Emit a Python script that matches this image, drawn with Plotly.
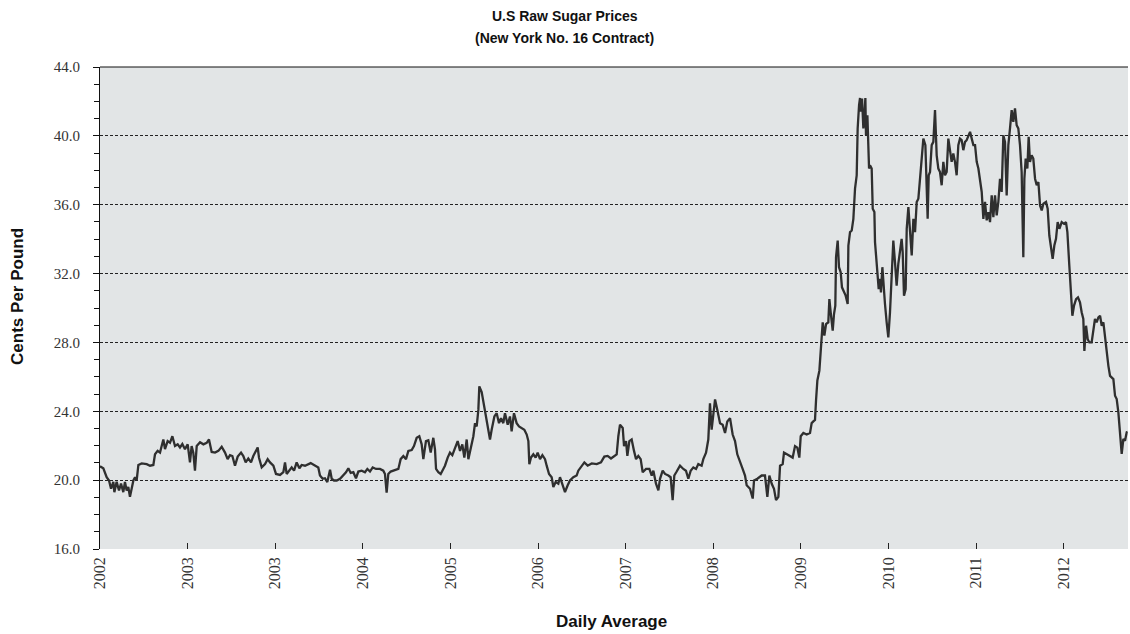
import plotly.graph_objects as go

# Time position in years from the first tick (left edge = first "2002" label)
t_years = [
    0.000, 0.038, 0.076, 0.103, 0.126, 0.152, 0.164, 0.190, 0.217, 0.240, 0.266, 0.285, 0.304, 0.323, 0.342, 0.361,
    0.381, 0.400, 0.419, 0.438, 0.476, 0.533, 0.571, 0.609, 0.628, 0.658, 0.685, 0.704, 0.723, 0.742, 0.772, 0.799,
    0.826, 0.856, 0.887, 0.913, 0.940, 0.970, 1.001, 1.027, 1.046, 1.065, 1.084, 1.104, 1.142, 1.180, 1.218, 1.244,
    1.275, 1.313, 1.351, 1.389, 1.427, 1.457, 1.484, 1.511, 1.541, 1.572, 1.610, 1.636, 1.663, 1.693, 1.724, 1.750,
    1.769, 1.800, 1.815, 1.846, 1.884, 1.914,
    1.941, 1.979, 2.009, 2.055, 2.093, 2.112, 2.131, 2.161, 2.188, 2.215, 2.245, 2.276, 2.302, 2.340, 2.378, 2.405,
    2.443, 2.492, 2.511, 2.542, 2.568, 2.595, 2.626, 2.645, 2.671, 2.702, 2.740, 2.778, 2.808, 2.835, 2.862, 2.892,
    2.922, 2.949, 2.987, 3.025, 3.052, 3.082, 3.113, 3.151, 3.196, 3.234, 3.253, 3.272, 3.291, 3.318, 3.356, 3.406,
    3.432, 3.463, 3.493, 3.520, 3.558, 3.584, 3.615, 3.645, 3.672, 3.691, 3.721, 3.748, 3.775, 3.805, 3.824, 3.836,
    3.862, 3.889, 3.919,
    3.938, 3.969, 3.995, 4.022, 4.052, 4.083, 4.110, 4.136, 4.159, 4.186, 4.205, 4.235, 4.262, 4.281, 4.300, 4.319,
    4.330, 4.357, 4.376, 4.395, 4.414, 4.433, 4.452, 4.471, 4.502, 4.528, 4.555, 4.578, 4.604, 4.623, 4.654, 4.680,
    4.699, 4.726, 4.756, 4.783, 4.814, 4.844, 4.871, 4.890, 4.901, 4.920, 4.947, 4.973, 4.996, 5.023, 5.050, 5.080,
    5.099, 5.126, 5.156, 5.175, 5.202, 5.232, 5.251, 5.278, 5.308, 5.339, 5.365, 5.403, 5.441, 5.460, 5.498, 5.529,
    5.567, 5.613, 5.670, 5.719, 5.757, 5.795, 5.833, 5.871, 5.898, 5.917,
    5.936, 5.967, 5.982, 6.005, 6.020, 6.043, 6.069, 6.096, 6.119, 6.145, 6.172, 6.195, 6.233, 6.271, 6.298, 6.317,
    6.347, 6.374, 6.393, 6.423, 6.450, 6.488, 6.514, 6.537, 6.556, 6.583, 6.621, 6.659, 6.689, 6.716, 6.743, 6.773,
    6.804, 6.830, 6.868, 6.887, 6.918, 6.944, 6.963, 6.982, 7.002, 7.021, 7.047, 7.078, 7.108, 7.135, 7.161, 7.192,
    7.222, 7.249, 7.275, 7.306, 7.336, 7.363, 7.382, 7.420, 7.451, 7.466, 7.504, 7.553, 7.591, 7.618, 7.641, 7.668,
    7.694, 7.717, 7.744, 7.763, 7.793, 7.808, 7.839, 7.877, 7.907, 7.934, 7.960, 7.983, 7.999, 8.029, 8.067, 8.105,
    8.124, 8.143, 8.162, 8.174, 8.189, 8.212,
    8.227, 8.242, 8.250, 8.269, 8.288, 8.314, 8.326, 8.341, 8.364, 8.379, 8.394, 8.402, 8.421, 8.436, 8.455, 8.470,
    8.493, 8.512, 8.535, 8.543, 8.562, 8.581, 8.600, 8.619, 8.638, 8.649, 8.665, 8.676, 8.687, 8.699, 8.714, 8.725,
    8.737, 8.744, 8.760, 8.767, 8.779, 8.790, 8.809, 8.821, 8.840, 8.847, 8.858, 8.874, 8.889, 8.904, 8.915, 8.931,
    8.942, 8.961, 8.980, 8.999, 9.018, 9.037, 9.056, 9.075, 9.094, 9.113, 9.132, 9.151, 9.163, 9.178, 9.197, 9.209,
    9.228, 9.247, 9.266, 9.285, 9.304, 9.323, 9.342, 9.361, 9.380, 9.399, 9.422, 9.437, 9.448, 9.460, 9.475, 9.494,
    9.513, 9.532, 9.551, 9.570, 9.589, 9.608, 9.627, 9.646, 9.665, 9.684, 9.703, 9.722, 9.741, 9.760, 9.779, 9.798,
    9.817, 9.836, 9.855, 9.875, 9.893, 9.912, 9.932, 9.951, 9.970,
    9.989, 10.008, 10.027, 10.046, 10.065, 10.084, 10.103, 10.122, 10.141, 10.160, 10.179, 10.198, 10.217, 10.236,
    10.255, 10.274, 10.293, 10.312, 10.331, 10.350, 10.369, 10.388, 10.407, 10.426, 10.445, 10.464, 10.483, 10.502,
    10.521, 10.540, 10.552, 10.567, 10.586, 10.601, 10.616, 10.635, 10.654, 10.674, 10.693, 10.712, 10.731, 10.750,
    10.769, 10.799, 10.818, 10.837, 10.852, 10.875, 10.894, 10.913, 10.932, 10.952, 10.978, 11.005, 11.027, 11.043,
    11.065, 11.081, 11.100, 11.119, 11.142, 11.164, 11.187, 11.206, 11.225, 11.237, 11.256, 11.275, 11.294, 11.320,
    11.339, 11.358, 11.377, 11.397, 11.416, 11.435, 11.454, 11.473, 11.492, 11.511, 11.530, 11.549,
    11.568, 11.587, 11.606, 11.625, 11.636, 11.651, 11.663, 11.682, 11.701, 11.720, 11.730,
]

# Daily average price, cents per pound
cents = [
    20.80, 20.69, 20.17, 19.98, 19.50, 19.90, 19.30, 19.90, 19.40, 19.80, 19.30, 19.90, 19.40, 19.60, 19.03, 19.60,
    19.98, 20.17, 20.00, 20.88, 20.97, 20.93, 20.84, 20.88, 21.50, 21.70, 21.60, 21.98, 22.36, 21.80, 22.27, 22.17,
    22.55, 21.98, 22.08, 21.90, 22.10, 21.80, 22.08, 21.03, 21.98, 21.60, 20.55, 21.98, 22.20, 22.08, 22.17, 22.36,
    21.64, 21.60, 21.70, 21.94, 21.60, 21.22, 21.45, 21.40, 20.84, 21.37, 21.60, 21.40, 21.03, 21.26, 21.03, 21.40,
    21.60, 21.90, 21.30, 20.74, 20.93, 21.22,
    21.03, 20.84, 20.36, 20.30, 20.46, 21.03, 20.36, 20.55, 20.74, 20.55, 21.03, 20.69, 20.88, 20.84, 20.93, 20.99,
    20.88, 20.74, 20.27, 20.08, 20.11, 19.89, 20.60, 20.08, 19.98, 19.98, 20.08, 20.27, 20.46, 20.69, 20.42, 20.46,
    20.11, 20.50, 20.55, 20.46, 20.65, 20.50, 20.74, 20.65, 20.65, 20.55, 20.36, 19.28, 20.36, 20.50, 20.55, 20.65,
    21.22, 21.40, 21.22, 21.70, 21.75, 21.98, 22.46, 22.55, 22.08, 21.22, 22.27, 22.32, 21.60, 22.46, 21.79, 20.65,
    20.46, 20.36, 20.65,
    20.84, 21.31, 21.60, 21.45, 21.89, 22.27, 21.70, 22.08, 21.31, 22.36, 21.22, 21.98, 22.55, 23.31, 23.12, 24.08,
    25.45, 25.12, 24.55, 24.08, 23.50, 22.74, 22.36, 22.93, 23.70, 23.89, 23.31, 23.60, 23.31, 23.89, 23.22, 23.70,
    22.84, 23.89, 23.31, 23.12, 23.03, 22.93, 22.65, 22.27, 20.93, 21.31, 21.50, 21.31, 21.60, 21.22, 21.45, 21.22,
    20.84, 20.36, 20.17, 19.60, 19.89, 19.79, 20.17, 19.79, 19.31, 19.70, 19.98, 20.17, 20.27, 20.55, 20.84, 21.03,
    20.84, 20.97, 20.93, 21.03, 21.37, 21.41, 21.26, 21.41, 21.50, 22.55,
    23.22, 23.03, 21.98, 22.27, 21.41, 22.27, 22.36, 21.70, 21.22, 21.41, 21.22, 20.46, 20.65, 20.65, 20.27, 20.55,
    19.79, 19.41, 20.08, 20.55, 20.36, 20.27, 20.17, 18.84, 20.27, 20.50, 20.84, 20.65, 20.55, 20.08, 20.55, 20.74,
    20.65, 20.93, 20.84, 21.22, 21.60, 22.36, 24.46, 22.93, 24.08, 24.69, 24.08, 23.31, 23.22, 22.74, 23.41, 23.60,
    22.65, 22.27, 21.50, 21.12, 20.65, 20.27, 19.70, 19.50, 18.93, 19.98, 20.08, 20.27, 20.27, 19.03, 20.27, 19.79,
    19.50, 18.84, 19.03, 20.84, 20.93, 21.60, 21.50, 21.37, 21.31, 21.98, 21.89, 21.31, 22.55, 22.74, 22.65, 22.74,
    23.31, 23.41, 23.50, 24.65, 25.79, 26.36,
    27.40, 28.58, 29.17, 28.39, 29.07, 29.17, 30.52, 29.75, 28.68, 29.65, 30.14, 32.95, 33.92, 32.37, 32.08, 31.20,
    30.91, 30.72, 30.23, 33.63, 34.41, 34.50, 35.18, 36.93, 37.71, 40.43, 41.79, 42.20, 41.40, 42.17, 40.43, 41.00,
    42.20, 40.04, 41.20, 39.46, 38.10, 38.29, 38.10, 35.77, 35.57, 33.83, 33.05, 31.88, 31.10, 31.69, 30.91, 32.37,
    31.50, 30.23, 29.17, 28.29, 29.75, 32.08, 33.92, 32.66, 31.30, 32.56, 33.24, 34.02, 33.24, 30.72, 31.10, 34.60,
    35.86, 34.60, 33.05, 35.18, 34.41, 36.16, 36.35, 37.51, 38.68, 39.84, 39.46, 37.32, 35.18, 37.71, 37.90, 39.46,
    39.65, 41.50, 38.87, 38.10, 37.90, 37.13, 38.49, 37.71, 37.90, 39.84, 39.07, 38.49, 38.97, 38.49, 37.71, 39.46,
    39.84, 39.75, 39.17, 39.65, 39.75, 40.04, 40.23, 39.84, 39.46,
    39.46, 38.49, 38.10, 37.51, 36.74, 35.18, 36.16, 35.09, 35.57, 34.99, 36.54, 35.28, 36.54, 35.38,
    36.16, 37.51, 36.74, 40.04, 39.65, 36.54, 39.46, 40.43, 41.50, 40.82, 41.60, 40.62, 40.43, 39.46,
    37.90, 32.95, 37.51, 38.68, 38.10, 39.94, 38.49, 38.87, 38.68, 37.51, 37.13, 37.32, 35.96, 35.67,
    36.06, 36.16, 35.77, 34.21, 33.63, 32.85, 33.63, 34.02, 34.99, 34.60, 34.99, 34.89, 34.99, 34.41,
    32.47, 30.72, 29.55, 30.14, 30.52, 30.62, 30.33, 29.75, 29.36, 27.51, 28.97, 28.19, 28.00, 28.00,
    28.58, 29.36, 29.17, 29.46, 29.55, 28.97, 29.17, 28.19, 27.22, 26.64, 26.06, 25.96,
    25.87, 24.90, 24.71, 23.94, 23.16, 22.58, 21.52, 22.39, 22.29, 22.78, 22.80,
]

tick_positions = list(range(12))
tick_labels = ["2002", "2003", "2003", "2004", "2005", "2006", "2007", "2008", "2009", "2010", "2011", "2012"]
y_ticks = [16, 20, 24, 28, 32, 36, 40, 44]

title_line1 = "U.S Raw Sugar Prices"
title_line2 = "(New York No. 16 Contract)"

fig = go.Figure()
fig.add_trace(go.Scatter(
    x=t_years, y=cents, mode="lines",
    line=dict(color="#2f2f2f", width=2.3),
    hoverinfo="skip", showlegend=False,
))

serif = "Liberation Serif, Times New Roman, serif"
sans = "Liberation Sans, Arial, sans-serif"

fig.update_layout(
    width=1130, height=634,
    margin=dict(l=100, r=2, t=67, b=85),
    paper_bgcolor="white",
    plot_bgcolor="#e2e5e6",
    showlegend=False,
    xaxis=dict(
        range=[0, 11.735],
        tickmode="array", tickvals=tick_positions, ticktext=tick_labels,
        tickangle=-90,
        ticks="inside", ticklen=6, tickcolor="#222", tickwidth=1,
        tickfont=dict(family=serif, size=16, color="#333"),
        ticklabelstandoff=4,
        showgrid=False, zeroline=False, showline=False,
    ),
    yaxis=dict(
        range=[16, 44],
        tickmode="array", tickvals=y_ticks,
        ticktext=[f"{v:.1f}" for v in y_ticks],
        ticks="outside", ticklen=6, tickcolor="#111", tickwidth=1,
        minor=dict(dtick=1, ticks="outside", ticklen=5, tickcolor="#111", showgrid=False),
        tickfont=dict(family=serif, size=15, color="#333"),
        ticklabelstandoff=10,
        showgrid=True, gridcolor="#222", gridwidth=1, griddash="3px,2px",
        zeroline=False,
        showline=True, linecolor="#111", linewidth=1,
    ),
    shapes=[
        dict(type="line", xref="paper", yref="paper", x0=0, x1=1, y0=1, y1=1,
             line=dict(color="#111", width=1)),
    ],
    annotations=[
        dict(text="<b>" + title_line1 + "</b>",
             xref="paper", yref="paper", x=0.4523, y=(549 - 16) / 482, xanchor="center", yanchor="middle",
             showarrow=False, font=dict(family=sans, size=14, color="#111")),
        dict(text="<b>" + title_line2 + "</b>",
             xref="paper", yref="paper", x=0.4523, y=(549 - 38) / 482, xanchor="center", yanchor="middle",
             showarrow=False, font=dict(family=sans, size=14, color="#111")),
        dict(text="<b>Cents Per Pound</b>", xref="paper", yref="paper",
             x=-0.0798, y=0.525, xanchor="center", yanchor="middle", textangle=-90,
             showarrow=False, font=dict(family=sans, size=17, color="#111")),
        dict(text="<b>Daily Average</b>", xref="paper", yref="paper",
             x=0.498, y=-0.151, xanchor="center", yanchor="middle",
             showarrow=False, font=dict(family=sans, size=17, color="#111")),
    ],
)

fig.write_html(
    "out.html",
    config={"displayModeBar": False},
    post_script="document.body.style.margin='0';document.body.style.overflow='hidden';",
)
